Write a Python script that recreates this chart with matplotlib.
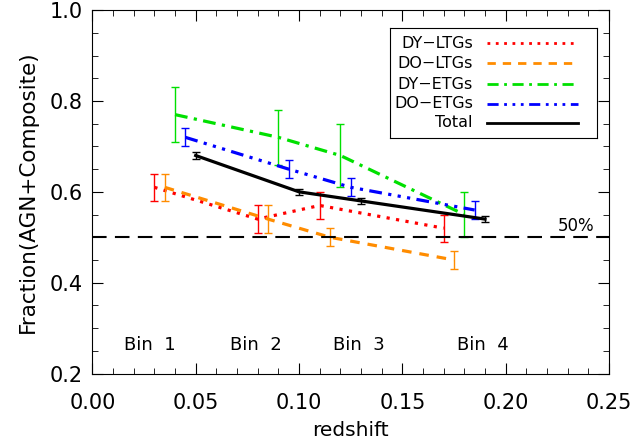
import matplotlib.pyplot as plt
from matplotlib.ticker import MultipleLocator

# data
dy_ltg_z = [0.030, 0.080, 0.110, 0.170]
dy_ltg_f = [0.61, 0.54, 0.57, 0.52]
dy_ltg_e = [0.03, 0.03, 0.03, 0.03]

do_ltg_z = [0.035, 0.085, 0.115, 0.175]
do_ltg_f = [0.61, 0.54, 0.50, 0.45]
do_ltg_e = [0.03, 0.03, 0.02, 0.02]

dy_etg_z = [0.040, 0.090, 0.120, 0.180]
dy_etg_f = [0.77, 0.72, 0.68, 0.55]
dy_etg_e = [0.06, 0.06, 0.07, 0.05]

do_etg_z = [0.045, 0.095, 0.125, 0.185]
do_etg_f = [0.72, 0.65, 0.61, 0.56]
do_etg_e = [0.02, 0.02, 0.02, 0.02]

tot_z = [0.050, 0.100, 0.130, 0.190]
tot_f = [0.68, 0.60, 0.58, 0.54]
tot_e = [0.007, 0.007, 0.007, 0.007]

bin_labels = ['Bin  1', 'Bin  2', 'Bin  3', 'Bin  4']
bin_x = [0.028, 0.079, 0.129, 0.189]

plt.rcParams['font.family'] = ['DejaVu Sans']

fig = plt.figure(figsize=(6.37, 4.40), dpi=100)
ax = fig.add_axes([0.145, 0.151, 0.811, 0.826])

series = [
    ('DY-LTGs', dy_ltg_z, dy_ltg_f, dy_ltg_e, '#ff0000', (0, (1, 2))),
    ('DO-LTGs', do_ltg_z, do_ltg_f, do_ltg_e, '#ff8c00', (0, (3, 2.5))),
    ('DY-ETGs', dy_etg_z, dy_etg_f, dy_etg_e, '#00e000', (0, (4, 2, 1, 2))),
    ('DO-ETGs', do_etg_z, do_etg_f, do_etg_e, '#0000ff', (0, (4, 2, 1, 2, 1, 2, 1, 2))),
    ('Total', tot_z, tot_f, tot_e, '#000000', '-'),
]

for name, z, f, e, c, ls in series:
    ax.plot(z, f, color=c, ls=ls, lw=2.3)
    ax.errorbar(z, f, yerr=e, fmt='none', ecolor=c, elinewidth=1, capsize=3, capthick=1)

ax.axhline(0.5, color='black', ls=(0, (7, 4)), lw=1.5)
ax.text(0.243, 0.505, '50%', ha='right', va='bottom', fontsize=12)

for lab, x in zip(bin_labels, bin_x):
    ax.text(x, 0.262, lab, ha='center', va='center', fontsize=13)

ax.set_xlim(0, 0.25)
ax.set_ylim(0.2, 1.0)
ax.xaxis.set_major_locator(MultipleLocator(0.05))
ax.xaxis.set_minor_locator(MultipleLocator(0.01))
ax.yaxis.set_major_locator(MultipleLocator(0.2))
ax.yaxis.set_minor_locator(MultipleLocator(0.05))
ax.xaxis.set_major_formatter(plt.FormatStrFormatter('%.2f'))
ax.yaxis.set_major_formatter(plt.FormatStrFormatter('%.1f'))
ax.tick_params(which='both', direction='in', top=True, right=True, labelsize=15)
ax.tick_params(axis='x', pad=14)
ax.tick_params(axis='y', pad=7)
ax.tick_params(which='major', length=8)
ax.tick_params(which='minor', length=4)
ax.set_xlabel('redshift', fontsize=14.5, labelpad=6)
ax.set_ylabel('Fraction(AGN+Composite)', fontsize=15.5, labelpad=8)

# legend box drawn by hand: labels on the left, line samples on the right
leg = ax.inset_axes([0.576, 0.649, 0.401, 0.301])
leg.set_xlim(0, 1)
leg.set_ylim(0, 1)
leg.set_xticks([])
leg.set_yticks([])
ys = [0.863, 0.681, 0.490, 0.308, 0.135]
for (name, z, f, e, c, ls), y in zip(series, ys):
    leg.text(0.40, y, name.replace('-', '\u2212'), ha='right', va='center', fontsize=11.5)
    leg.plot([0.469, 0.908], [y, y], color=c, ls=ls, lw=2)

plt.savefig('out.png', dpi=100)
